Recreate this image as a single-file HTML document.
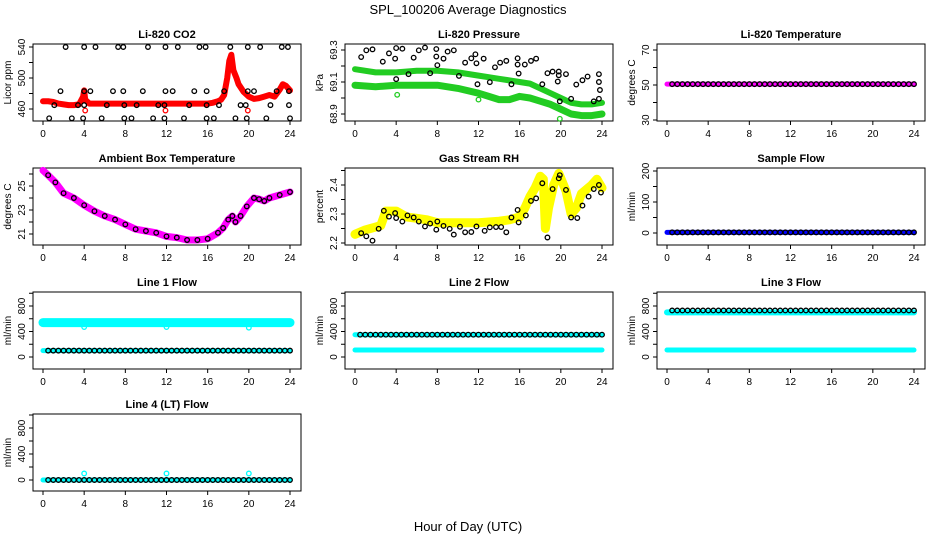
<!DOCTYPE html>
<html><head><meta charset="utf-8"><style>
body{margin:0;background:#fff}
svg{display:block;font-family:"Liberation Sans",sans-serif}
</style></head><body>
<svg id="c" width="936" height="540" viewBox="0 0 936 540">
<text x="468" y="14" text-anchor="middle" font-size="13">SPL_100206  Average Diagnostics</text>
<text x="468" y="531" text-anchor="middle" font-size="13">Hour of Day (UTC)</text>
</svg>
<script>
// ---------- data ----------
const halfHours=[0.5,1,1.5,2,2.5,3,3.5,4,4.5,5,5.5,6,6.5,7,7.5,8,8.5,9,9.5,10,10.5,11,11.5,12,12.5,13,13.5,14,14.5,15,15.5,16,16.5,17,17.5,18,18.5,19,19.5,20,20.5,21,21.5,22,22.5,23,23.5,24];
// CO2
const co2BandX=[0,0.5,1,1.5,2,2.5,3,3.5,3.9,4,4.1,4.5,5,8,12,16,16.5,17,17.3,17.6,17.9,18.1,18.3,18.5,18.8,19,19.5,20,20.5,21,21.5,22,22.5,23,23.3,23.6,24];
const co2BandY=[470,470,469,467,466,465,465,466,476,484,472,467,467,467,467,467,468,470,472,478,500,522,530,510,500,492,482,476,473,474,476,478,476,485,492,490,484];
const co2BlackX=[2.2,4.0,5.1,7.3,7.8,10.2,11.9,13.1,15.2,15.8,18.2,19.9,21.1,23.2,23.8,1.7,4.0,4.6,6.8,7.8,9.7,11.9,12.6,14.7,15.9,17.6,19.9,20.5,22.7,23.9,1.1,3.4,4.0,6.2,7.9,9.1,11.2,11.8,14.2,15.9,17.1,19.2,19.7,22.1,23.9,0.6,2.8,3.9,5.7,7.9,8.6,10.7,11.8,13.7,15.9,16.6,18.7,19.8,21.7,24.0];
const co2BlackY=[540,540,540,540,540,540,540,540,540,540,540,540,540,540,540,483,483,483,483,483,483,483,483,483,483,483,483,483,483,483,465,465,465,465,465,465,465,465,465,465,465,465,465,465,465,448,448,448,448,448,448,448,448,448,448,448,448,448,448,448];
const co2RedOutX=[4.1,11.9,19.9];
const co2RedOutY=[458,458,458];
// Pressure
const presUpX=[0,2,4,6,8,10,12,14,16,17,18,19,20,21,22,23,24];
const presUpY=[69.18,69.16,69.16,69.17,69.17,69.16,69.14,69.12,69.10,69.09,69.06,69.03,69.00,68.97,68.96,68.96,68.97];
const presLoX=[0,2,4,6,8,10,12,13,14,15,16,17,18,19,20,21,22,23,24];
const presLoY=[69.08,69.07,69.08,69.08,69.08,69.06,69.03,69.01,68.99,68.99,69.01,69.00,68.98,68.96,68.93,68.90,68.89,68.89,68.90];
const presBlackX=[0.6,1.1,1.7,2.7,3.3,3.9,4.0,4.0,4.6,5.2,5.7,6.2,6.8,7.3,7.9,7.9,8.0,8.6,9.0,9.6,10.1,10.7,11.3,11.7,11.8,11.9,12.5,13.1,13.6,14.1,14.7,15.2,15.8,15.8,15.9,16.5,17.1,17.6,18.2,18.7,19.2,19.8,19.8,19.7,19.9,20.5,21.0,21.5,22.1,22.6,23.2,23.7,23.7,23.8,23.7];
const presBlackY=[69.256,69.298,69.304,69.227,69.279,69.246,69.312,69.118,69.308,69.149,69.252,69.298,69.315,69.155,69.306,69.259,69.205,69.246,69.29,69.298,69.138,69.221,69.248,69.273,69.217,69.086,69.246,69.099,69.192,69.221,69.232,69.086,69.248,69.209,69.153,69.209,69.232,69.246,69.086,69.155,69.165,69.165,69.142,69.103,68.979,69.149,68.995,69.084,69.111,69.134,68.979,69.149,69.1,69.05,68.995];
const presGreenOutX=[4.1,12.0,19.9];
const presGreenOutY=[69.02,68.99,68.87];
// Li-820 temperature
const liTempX=[0,24];
const liTempY=[50.5,50.5];
const liTempBlackY=[50.5,50.5,50.5,50.5,50.5,50.5,50.5,50.5,50.5,50.5,50.5,50.5,50.5,50.5,50.5,50.5,50.5,50.5,50.5,50.5,50.5,50.5,50.5,50.5,50.5,50.5,50.5,50.5,50.5,50.5,50.5,50.5,50.5,50.5,50.5,50.5,50.5,50.5,50.5,50.5,50.5,50.5,50.5,50.5,50.5,50.5,50.5,50.5];
// Ambient temperature
const ambX=[0,0.5,1.2,2,3,4,5,6,7,8,9,10,11,12,13,14,15,16,17,17.5,18,18.4,18.7,19.2,19.8,20.5,21,21.5,22,23,24];
const ambY=[26.3,25.9,25.3,24.4,24.0,23.4,22.9,22.5,22.2,21.8,21.4,21.25,21.1,20.8,20.7,20.5,20.5,20.6,21.1,21.5,22.2,22.5,22.0,22.5,23.3,24.0,23.9,23.75,24.0,24.25,24.5];
// Gas stream RH
const rhBandX=[0,1,2,2.5,3,4,5,6,7,8,10,12,14,15,16,16.5,17,17.5,18,18.3,18.5,18.8,19.3,19.8,20.5,21,21.5,22,23,23.5,24];
const rhBandY=[2.23,2.245,2.255,2.26,2.31,2.31,2.29,2.285,2.28,2.27,2.27,2.27,2.275,2.28,2.29,2.32,2.36,2.39,2.43,2.42,2.25,2.32,2.40,2.44,2.38,2.30,2.32,2.37,2.40,2.42,2.39];
const rhBlackX=[0.6,1.1,1.7,2.3,2.8,3.3,3.9,4.0,4.6,5.1,5.7,6.2,6.8,7.3,7.9,8.0,8.6,9.2,9.6,10.2,10.7,11.3,11.8,12.6,13.1,13.7,14.2,14.7,15.2,15.8,15.9,16.6,17.1,17.6,18.2,18.7,19.2,19.8,19.9,20.5,21.0,21.6,22.1,22.7,23.2,23.7,23.9];
const rhBlackY=[2.234,2.223,2.208,2.249,2.311,2.291,2.303,2.286,2.274,2.295,2.288,2.274,2.257,2.267,2.246,2.274,2.259,2.249,2.229,2.256,2.237,2.238,2.257,2.242,2.254,2.255,2.255,2.237,2.288,2.314,2.271,2.295,2.345,2.354,2.406,2.219,2.386,2.423,2.434,2.383,2.288,2.286,2.329,2.36,2.386,2.40,2.374];
// Sample flow
const sampX=[0,24];
const sampY=[2,2];
// Line flows
const l1HighY=[540,540]; const l1LowY=[100,100];
const l1OutX=[4,12,20]; const l1OutY=[470,470,460];
const l2HighY=[350,350]; const l2LowY=[110,110];
const l3HighY=[700,700]; const l3LowY=[110,110];
const l3BlackVal=730; const l2BlackVal=350; const l1BlackVal=100;
const l4Y=[0,0]; const l4OutX=[4,12,20]; const l4OutY=[100,100,100];
const l4BlackVal=0;
const xTicks=[0,4,8,12,16,20,24];

// ---------- drawing ----------
const NS="http://www.w3.org/2000/svg";
const svg=document.getElementById('c');
function mk(tag,parent){const e=document.createElementNS(NS,tag);parent.appendChild(e);return e;}
const tops=[44,168,292,414];
function panel(col,row,title,ylab,v0,p0,v1,p1,ticks,labels,id){
  const L=33+312*col,R=301+312*col,T=tops[row],B=T+77;
  const g=mk('g',svg);
  
  
  const fx=h=>(43+312*col)+h*(247/24);
  const fy=v=>p0+(v-v0)*(p1-p0)/(v1-v0);
  const box=mk('rect',g);
  box.setAttribute('x',L);box.setAttribute('y',T);box.setAttribute('width',R-L);box.setAttribute('height',B-T);
  box.setAttribute('fill','none');box.setAttribute('stroke','#000');box.setAttribute('stroke-width','1');
  
  
  const t=mk('text',g);t.textContent=title;
  t.setAttribute('x',(L+R)/2);t.setAttribute('y',T-6);t.setAttribute('text-anchor','middle');
  t.setAttribute('font-size','11');t.setAttribute('font-weight','bold');
  
  
  // x axis
  xTicks.forEach(h=>{
    const x=fx(h);
    const l=mk('line',g);l.setAttribute('x1',x);l.setAttribute('x2',x);l.setAttribute('y1',B);l.setAttribute('y2',B+4);l.setAttribute('stroke','#000');
    
    
    const tx=mk('text',g);tx.textContent=h;tx.setAttribute('x',x);tx.setAttribute('y',B+16);tx.setAttribute('text-anchor','middle');tx.setAttribute('font-size','10');
    
    
  });
  ticks.forEach(v=>{
    const y=fy(v);
    const l=mk('line',g);l.setAttribute('x1',L-4);l.setAttribute('x2',L);l.setAttribute('y1',y);l.setAttribute('y2',y);l.setAttribute('stroke','#000');
    
    
  });
  labels.forEach(v=>{
    const y=fy(v);
    const tx=mk('text',g);tx.textContent=v;
    tx.setAttribute('transform','translate('+(L-8)+','+y+') rotate(-90)');
    tx.setAttribute('text-anchor','middle');tx.setAttribute('font-size','10');
    
    
  });
  const yl=mk('text',g);yl.textContent=ylab;
  yl.setAttribute('transform','translate('+(L-22)+','+((T+B)/2)+') rotate(-90)');
  yl.setAttribute('text-anchor','middle');yl.setAttribute('font-size','10');
  
  
  return {g,fx,fy};
}
function band(p,xs,ys,color,w,name){
  const pl=mk('polyline',p.g);
  pl.setAttribute('points',xs.map((x,i)=>p.fx(x)+','+p.fy(ys[i])).join(' '));
  pl.setAttribute('fill','none');pl.setAttribute('stroke',color);pl.setAttribute('stroke-width',w);
  pl.setAttribute('stroke-linejoin','round');pl.setAttribute('stroke-linecap','round');
  
  
}
function pts(p,xs,ys,color,name){
  xs.forEach((x,i)=>{
    const c=mk('circle',p.g);
    c.setAttribute('cx',p.fx(x));c.setAttribute('cy',p.fy(ys[i]));c.setAttribute('r','2.3');
    c.setAttribute('fill','none');c.setAttribute('stroke',color);c.setAttribute('stroke-width','1.3');
    
    
  });
}
function constArr(v){return halfHours.map(()=>v);}

let p;
p=panel(0,0,'Li-820 CO2','Licor ppm',460,109,540,47,[460,480,500,520,540],[460,500,540],'co2');
band(p,co2BandX,co2BandY,'#ff0000',6,'co2-red-series');
pts(p,co2RedOutX,co2RedOutY,'#ff0000','co2-red-point');
pts(p,co2BlackX,co2BlackY,'#000','co2-black-point');

p=panel(1,0,'Li-820 Pressure','kPa',68.9,114,69.3,50,[68.9,69.0,69.1,69.2,69.3],[68.9,69.1,69.3],'pressure');
band(p,presUpX,presUpY,'#22cc22',6,'pressure-upper-series');
band(p,presLoX,presLoY,'#22cc22',7,'pressure-lower-series');
pts(p,presGreenOutX,presGreenOutY,'#22cc22','pressure-green-point');
pts(p,presBlackX,presBlackY,'#000','pressure-black-point');

p=panel(2,0,'Li-820 Temperature','degrees C',30,120,70,50,[30,40,50,60,70],[30,50,70],'li-temp');
band(p,liTempX,liTempY,'#ff00ff',5,'li-temp-series');
pts(p,halfHours,liTempBlackY,'#000','li-temp-black-point');

p=panel(0,1,'Ambient Box Temperature','degrees C',21,234,25,186,[21,22,23,24,25,26],[21,23,25],'ambient');
band(p,ambX,ambY,'#ff00ff',7,'ambient-series');
pts(p,ambX.slice(1),ambY.slice(1),'#000','ambient-black-point');

p=panel(1,1,'Gas Stream RH','percent',2.20,243,2.40,185,[2.20,2.25,2.30,2.35,2.40,2.45],['2.20','2.30','2.40'].map(Number),'rh');
band(p,rhBandX,rhBandY,'#ffff00',9,'rh-yellow-series');
pts(p,rhBlackX,rhBlackY,'#000','rh-black-point');

p=panel(2,1,'Sample Flow','ml/min',0,233,200,171,[0,50,100,150,200],[0,100,200],'sample');
band(p,sampX,sampY,'#0000ff',5,'sample-series');
pts(p,halfHours,constArr(2),'#000','sample-black-point');

const flowTicks=[0,200,400,600,800,1000], flowLabels=[0,400,800];
p=panel(0,2,'Line 1 Flow','ml/min',0,357,800,306,flowTicks,flowLabels,'line1');
band(p,[0,24],l1HighY,'#00ffff',9,'line1-high-series');
band(p,[0,24],l1LowY,'#00ffff',5,'line1-low-series');
pts(p,l1OutX,l1OutY,'#00ffff','line1-outlier');
pts(p,halfHours,constArr(l1BlackVal),'#000','line1-black-point');

p=panel(1,2,'Line 2 Flow','ml/min',0,357,800,306,flowTicks,flowLabels,'line2');
band(p,[0,24],l2HighY,'#00ffff',5,'line2-high-series');
band(p,[0,24],l2LowY,'#00ffff',5,'line2-low-series');
pts(p,halfHours,constArr(l2BlackVal),'#000','line2-black-point');

p=panel(2,2,'Line 3 Flow','ml/min',0,357,800,306,flowTicks,flowLabels,'line3');
band(p,[0,24],l3HighY,'#00ffff',6,'line3-high-series');
band(p,[0,24],l3LowY,'#00ffff',5,'line3-low-series');
pts(p,halfHours,constArr(l3BlackVal),'#000','line3-black-point');

p=panel(0,3,'Line 4 (LT) Flow','ml/min',0,480,800,428,flowTicks,flowLabels,'line4');
band(p,[0,24],l4Y,'#00ffff',5,'line4-series');
pts(p,l4OutX,l4OutY,'#00ffff','line4-outlier');
pts(p,halfHours,constArr(l4BlackVal),'#000','line4-black-point');
</script>
</body></html>
